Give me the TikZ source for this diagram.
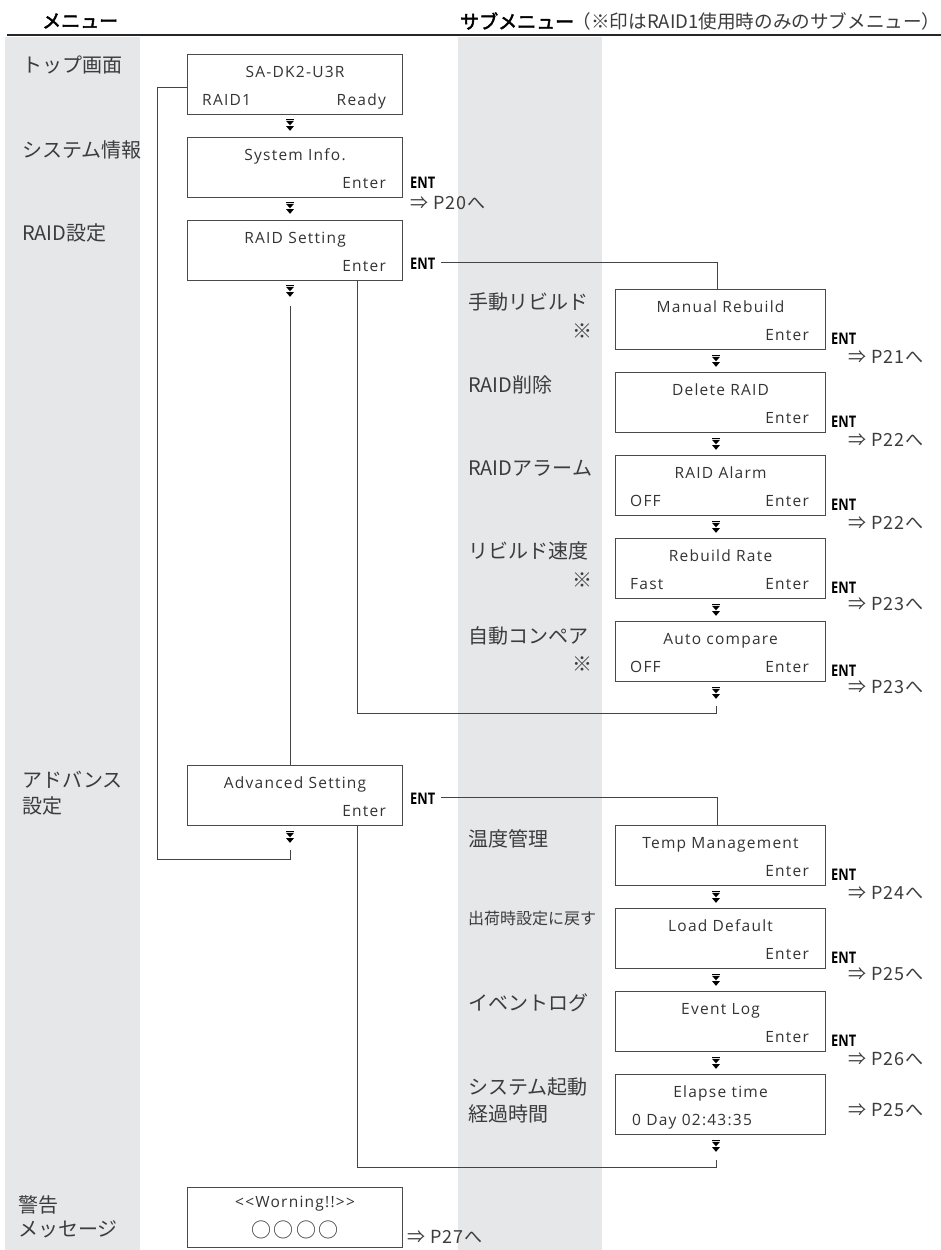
\documentclass[tikz,border=0pt]{standalone}
\usepackage{fontspec}
\setmainfont{Open Sans}
\newfontfamily\jp{Noto Sans CJK JP}
\newfontfamily\jpb[FakeBold=2.5]{Noto Sans CJK JP}
\newfontfamily\bx[LetterSpace=8]{Open Sans}
\newfontfamily\entf[FakeStretch=0.8]{Open Sans}
\newfontfamily\pf[LetterSpace=5]{Noto Sans CJK JP}
\newfontfamily\circf[LetterSpace=12]{Noto Sans CJK JP}
\definecolor{band}{HTML}{E6E7E9}
\definecolor{boxc}{HTML}{4A4A4A}
\definecolor{txt}{HTML}{333333}
\definecolor{labc}{HTML}{3C3C3C}
\definecolor{linec}{HTML}{444444}
\tikzset{
  lcd/.style={draw=boxc, line width=1.1pt, anchor=north west, minimum height=60pt, inner sep=0pt},
  lcdM/.style={lcd, minimum width=215pt},
  lcdS/.style={lcd, minimum width=210pt},
  lone/.style={anchor=base, inner sep=0pt, font=\bx\fontsize{15.5}{17}\selectfont, text=txt},
  ltwoL/.style={anchor=base west, inner sep=0pt, font=\bx\fontsize{15.5}{17}\selectfont, text=txt},
  ltwoR/.style={anchor=base east, inner sep=0pt, font=\bx\fontsize{15.5}{17}\selectfont, text=txt},
  lab/.style={anchor=west, inner sep=0pt, font=\jp\fontsize{20}{24}\selectfont, text=labc},
  labR/.style={anchor=east, inner sep=0pt, font=\jp\fontsize{20}{24}\selectfont, text=labc},
  entlab/.style={anchor=west, inner sep=0pt, font=\entf\bfseries\fontsize{16}{17}\selectfont, text=black},
  pref/.style={anchor=west, inner sep=0pt, font=\pf\fontsize{18}{20}\selectfont, text=labc},
  conn/.style={draw=linec, line width=1pt},
  dn/.pic={
    \fill[black] (-4,0) rectangle (4,1.1);
    \fill[black] (-4,1.8) -- (4,1.8) -- (0,6.3) -- cycle;
    \fill[black] (-4,7) -- (4,7) -- (0,11.8) -- cycle;
  }
}
\begin{document}
\begin{tikzpicture}[x=1pt, y=-1pt]
\useasboundingbox (0,0) rectangle (941,1250);
\fill[white] (0,0) rectangle (941,1250);
% grey bands
\fill[band] (5,37) rectangle (140,1250);
\fill[band] (458,37) rectangle (602,1250);
% header
\draw[line width=2.5pt, black!85] (7,35) -- (941,35);
\node[anchor=west, inner sep=0pt, font=\jpb\fontsize{19}{20}\selectfont] (hMenu) at (42,21) {メニュー};
\node[anchor=west, inner sep=0pt, font=\jpb\fontsize{19}{20}\selectfont] (hSub) at (460,21) {サブメニュー};
\node[anchor=west, inner sep=0pt, font=\jp\fontsize{18.6}{20}\selectfont, text=labc] (hNote) at ([xshift=-2pt]hSub.east) {（※印はRAID1使用時のみのサブメニュー）};

% left labels
\node[lab] (Ltop) at (22,65) {トップ画面};
\node[lab] (Lsys) at (22,150) {システム情報};
\node[lab] (Lraid) at (22,233) {RAID設定};
\node[lab] (Ladv1) at (22,780) {アドバンス};
\node[lab] (Ladv2) at (22,806) {設定};
\node[lab] (Lwarn1) at (18,1205) {警告};
\node[lab] (Lwarn2) at (18,1229) {メッセージ};

% main boxes
\node[lcdM] (top) at (187,54) {};
\node[lone] (topA) at ([yshift=-23pt]top.north) {SA-DK2-U3R};
\node[ltwoL] (topB) at ([xshift=15pt,yshift=-51pt]top.north west) {RAID1};
\node[ltwoR] (topC) at ([xshift=-17pt,yshift=-51pt]top.north east) {Ready};

\node[lcdM] (sys) at (187,137) {};
\node[lone] (sysA) at ([yshift=-23pt]sys.north) {System Info.};
\node[ltwoR] (sysC) at ([xshift=-17pt,yshift=-51pt]sys.north east) {Enter};

\node[lcdM] (raid) at (187,220) {};
\node[lone] (raidA) at ([yshift=-23pt]raid.north) {RAID Setting};
\node[ltwoR] (raidC) at ([xshift=-17pt,yshift=-51pt]raid.north east) {Enter};

\node[lcdM] (adv) at (187,765) {};
\node[lone] (advA) at ([yshift=-23pt]adv.north) {Advanced Setting};
\node[ltwoR] (advC) at ([xshift=-17pt,yshift=-51pt]adv.north east) {Enter};

\node[lcdM] (warn) at (187,1187) {};
\node[lone] (warnA) at ([yshift=-20pt]warn.north) {<<Worning!!>>};
\node[anchor=base, inner sep=0pt, font=\circf\fontsize{20}{21}\selectfont, text=txt] (warnB) at ([yshift=-50pt]warn.north) {○○○○};
\node[pref] (pWarn) at (407,1237) {⇒ P27へ};

% main arrows
\pic at (290,119) {dn};
\pic at (290,202) {dn};
\pic at (290,285) {dn};
\pic at (290,831) {dn};

% ENT main
\node[entlab] (entSys) at (410,183) {ENT};
\node[pref] (pSys) at (410,203) {⇒ P20へ};
\node[entlab] (entRaid) at (410,264) {ENT};
\node[entlab] (entAdv) at (410,799) {ENT};

% sub labels
\node[lab] (Sman) at (468,302) {手動リビルド};
\node[labR] (SmanX) at (593,331) {※};
\node[lab] (Sdel) at (468,385) {RAID削除};
\node[lab] (Salm) at (468,468) {RAIDアラーム};
\node[lab] (Srate) at (468,551) {リビルド速度};
\node[labR] (SrateX) at (593,580) {※};
\node[lab] (Sauto) at (468,636) {自動コンペア};
\node[labR] (SautoX) at (593,664) {※};
\node[lab] (Stemp) at (468,839) {温度管理};
\node[anchor=west, inner sep=0pt, font=\jp\fontsize{16}{20}\selectfont, text=labc] (Sload) at (468,918) {出荷時設定に戻す};
\node[lab] (Sevt) at (468,1003) {イベントログ};
\node[lab] (Sela1) at (468,1087) {システム起動};
\node[lab] (Sela2) at (468,1114) {経過時間};

% sub boxes RAID
\node[lcdS] (man) at (615,289) {};
\node[lone] (manA) at ([yshift=-23pt]man.north) {Manual Rebuild};
\node[ltwoR] (manC) at ([xshift=-17pt,yshift=-51pt]man.north east) {Enter};
\node[entlab] (entMan) at (831,339) {ENT};
\node[pref] (pMan) at (848,357) {⇒ P21へ};

\node[lcdS] (del) at (615,372) {};
\node[lone] (delA) at ([yshift=-23pt]del.north) {Delete RAID};
\node[ltwoR] (delC) at ([xshift=-17pt,yshift=-51pt]del.north east) {Enter};
\node[entlab] (entDel) at (831,422) {ENT};
\node[pref] (pDel) at (848,440) {⇒ P22へ};

\node[lcdS] (alm) at (615,455) {};
\node[lone] (almA) at ([yshift=-23pt]alm.north) {RAID Alarm};
\node[ltwoL] (almB) at ([xshift=15pt,yshift=-51pt]alm.north west) {OFF};
\node[ltwoR] (almC) at ([xshift=-17pt,yshift=-51pt]alm.north east) {Enter};
\node[entlab] (entAlm) at (831,505) {ENT};
\node[pref] (pAlm) at (848,523) {⇒ P22へ};

\node[lcdS] (rate) at (615,538) {};
\node[lone] (rateA) at ([yshift=-23pt]rate.north) {Rebuild Rate};
\node[ltwoL] (rateB) at ([xshift=15pt,yshift=-51pt]rate.north west) {Fast};
\node[ltwoR] (rateC) at ([xshift=-17pt,yshift=-51pt]rate.north east) {Enter};
\node[entlab] (entRate) at (831,588) {ENT};
\node[pref] (pRate) at (848,604) {⇒ P23へ};

\node[lcdS] (auto) at (615,621) {};
\node[lone] (autoA) at ([yshift=-23pt]auto.north) {Auto compare};
\node[ltwoL] (autoB) at ([xshift=15pt,yshift=-51pt]auto.north west) {OFF};
\node[ltwoR] (autoC) at ([xshift=-17pt,yshift=-51pt]auto.north east) {Enter};
\node[entlab] (entAuto) at (831,671) {ENT};
\node[pref] (pAuto) at (848,687) {⇒ P23へ};

% sub boxes advanced
\node[lcdS] (temp) at (615,825) {};
\node[lone] (tempA) at ([yshift=-23pt]temp.north) {Temp Management};
\node[ltwoR] (tempC) at ([xshift=-17pt,yshift=-51pt]temp.north east) {Enter};
\node[entlab] (entTemp) at (831,875) {ENT};
\node[pref] (pTemp) at (848,893) {⇒ P24へ};

\node[lcdS] (load) at (615,908) {};
\node[lone] (loadA) at ([yshift=-23pt]load.north) {Load Default};
\node[ltwoR] (loadC) at ([xshift=-17pt,yshift=-51pt]load.north east) {Enter};
\node[entlab] (entLoad) at (831,958) {ENT};
\node[pref] (pLoad) at (848,974) {⇒ P25へ};

\node[lcdS] (evt) at (615,991) {};
\node[lone] (evtA) at ([yshift=-23pt]evt.north) {Event Log};
\node[ltwoR] (evtC) at ([xshift=-17pt,yshift=-51pt]evt.north east) {Enter};
\node[entlab] (entEvt) at (831,1041) {ENT};
\node[pref] (pEvt) at (848,1059) {⇒ P26へ};

\node[lcdS] (ela) at (615,1074) {};
\node[lone] (elaA) at ([yshift=-23pt]ela.north) {Elapse time};
\node[ltwoL] (elaB) at ([xshift=17pt,yshift=-51pt]ela.north west) {0 Day 02:43:35};
\node[pref] (pEla) at (848,1110) {⇒ P25へ};

% sub arrows
\foreach \yy in {355,438,521,604,687,891,974,1057,1140} {\pic at (716,\yy) {dn};}

% connector coordinates
\coordinate (gAdvEnd) at (290,850);
\coordinate (lpL) at (157,859);
\coordinate (vTop) at (290,306);
\coordinate (lpR) at (357,713);
\coordinate (gAutoEnd) at (716,706);
\coordinate (lpR2) at (357,1167);
\coordinate (gElaEnd) at (716,1160);

% connectors
\draw[conn] ([yshift=-3pt]top.west) -| (lpL) -| (gAdvEnd);
\draw[conn] (vTop) -- (vTop |- adv.north);
\draw[conn] (raid.south -| lpR) -- (lpR) -| (gAutoEnd);
\draw[conn] (adv.south -| lpR2) -- (lpR2) -| (gElaEnd);
\draw[conn] ([xshift=6pt,yshift=2pt]entRaid.east) -| ([xshift=-3pt]man.north);
\draw[conn] ([xshift=6pt,yshift=2pt]entAdv.east) -| ([xshift=-3pt]temp.north);
\end{tikzpicture}
\end{document}
